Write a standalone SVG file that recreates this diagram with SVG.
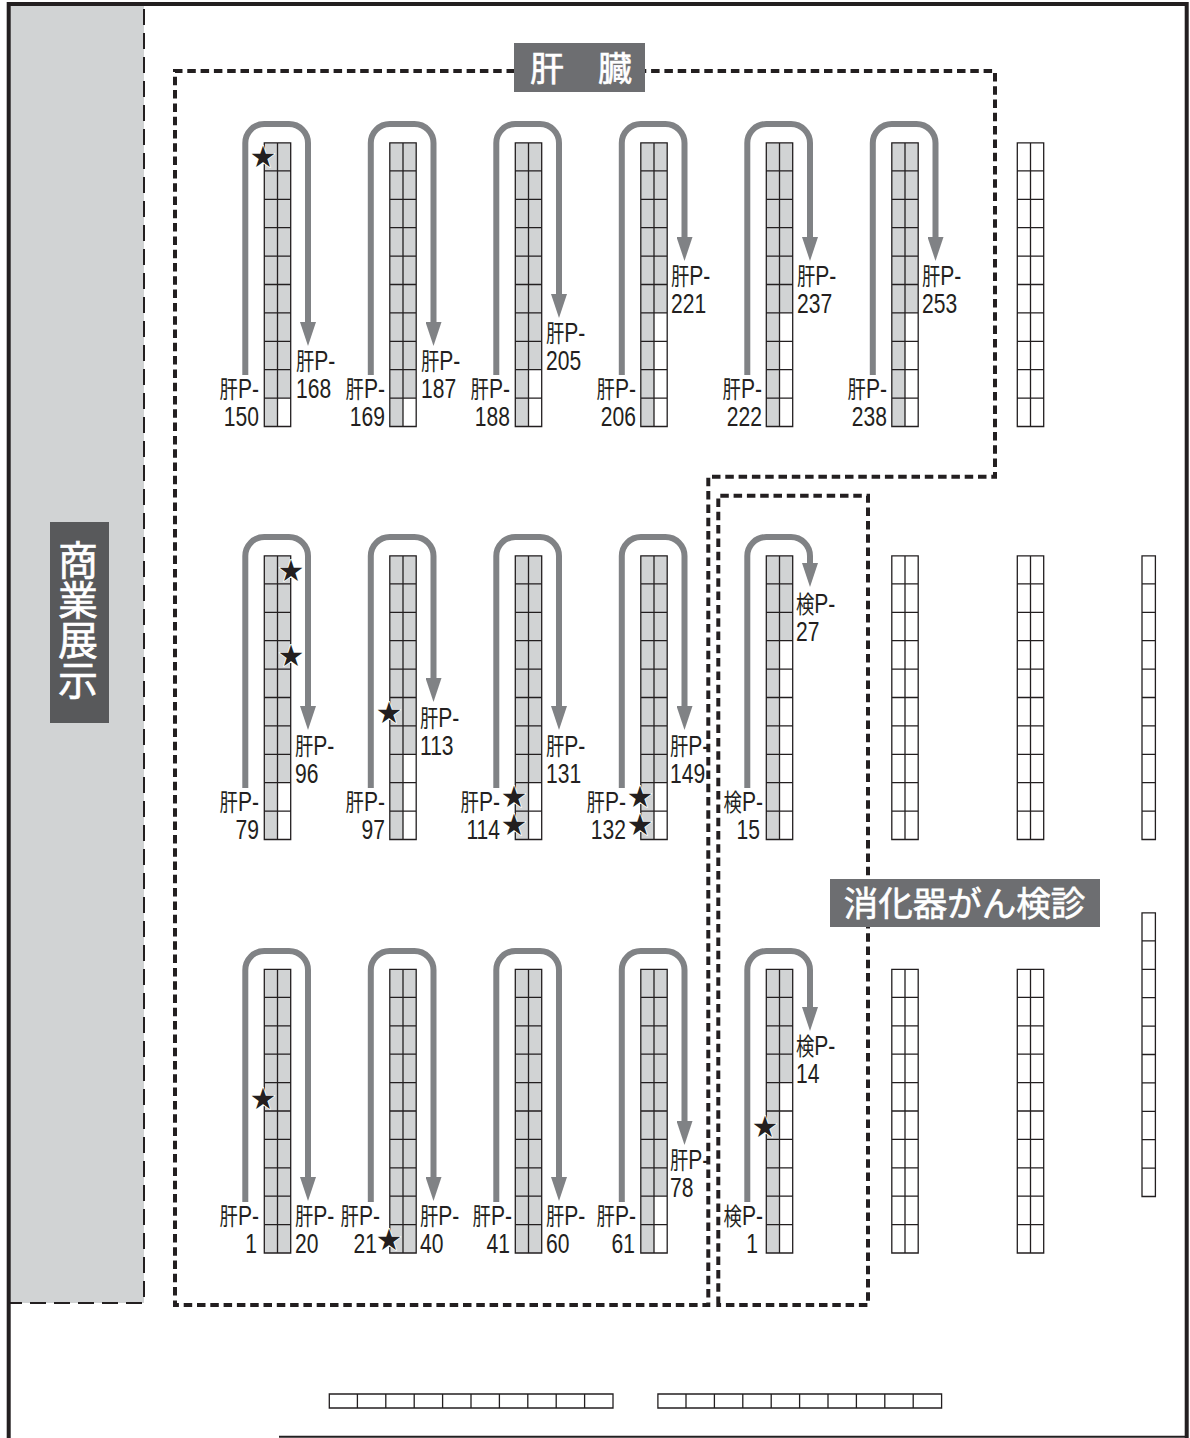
<svg xmlns="http://www.w3.org/2000/svg" width="1190" height="1438" viewBox="0 0 1190 1438">
<style>
text{font-family:"Liberation Sans","Noto Sans CJK JP",sans-serif;fill:#231f20}
.l{font-size:27px}
.e{text-anchor:end}
.c{font-family:"Noto Sans CJK JP",sans-serif;font-size:23.5px}
.f{fill:#d1d3d4}
.grid{fill:none;stroke:#231f20;stroke-width:1.3}
.a{fill:none;stroke:#808285;stroke-width:6;marker-end:url(#h)}
.b{fill:none;stroke:#231f20;stroke-width:4;stroke-dasharray:8.5 4.8}
.s{font-family:"Noto Sans CJK JP",sans-serif;font-size:24px;text-anchor:middle;stroke:#fff;stroke-width:1.6;paint-order:stroke}
.tag{fill:#6d6e71}
.w{fill:#fff;stroke:#fff;stroke-width:.6;font-family:"Noto Sans CJK JP",sans-serif;text-anchor:middle}
</style>
<defs>
<marker id="h" markerUnits="userSpaceOnUse" markerWidth="24" markerHeight="16" refX="0" refY="8" orient="auto"><path d="M0 0L24 8L0 16Z" fill="#808285"/></marker>
<g id="r" class="grid"><path d="M0 .3H26.4V284H0ZM13.2 .3V284M0 28.4H26.4M0 56.8H26.4M0 85.2H26.4M0 113.6H26.4M0 142H26.4M0 170.4H26.4M0 198.8H26.4M0 227.2H26.4M0 255.6H26.4"/></g>
<g id="one" class="grid"><path d="M0 .3H13.4V284H0ZM0 28.4H13.4M0 56.8H13.4M0 85.2H13.4M0 113.6H13.4M0 142H13.4M0 170.4H13.4M0 198.8H13.4M0 227.2H13.4M0 255.6H13.4"/></g>
<g id="hr" class="grid"><path d="M.3 0H284V14H.3ZM28.4 0V14M56.8 0V14M85.2 0V14M113.6 0V14M142 0V14M170.4 0V14M198.8 0V14M227.2 0V14M255.6 0V14"/></g>
</defs>
<g id="exhibit-band">
<rect class="f" x="10" y="5" width="134" height="1298"/>
<path d="M144 9V1303H10" fill="none" stroke="#231f20" stroke-width="2" stroke-dasharray="16 8"/>
</g>
<g id="frame">
<path d="M8.7 1438V4H1186.7V1438" fill="none" stroke="#231f20" stroke-width="4"/>
<path d="M279 1436.7H1186" fill="none" stroke="#231f20" stroke-width="2"/>
</g>
<g id="zones">
<path class="b" d="M515 71H175V1305H708.3V476.7H995V71H645"/>
<path class="b" d="M718.3 1305V495.7H868V1305Z"/>
</g>
<g id="connectors">
<path class="a" d="M245.3 375V143a19 19 0 0 1 19-19H289a19 19 0 0 1 19 19V322"/>
<path class="a" d="M370.8 375V143a19 19 0 0 1 19-19H414.5a19 19 0 0 1 19 19V322"/>
<path class="a" d="M496.3 375V143a19 19 0 0 1 19-19H540a19 19 0 0 1 19 19V294"/>
<path class="a" d="M621.8 375V143a19 19 0 0 1 19-19H665.5a19 19 0 0 1 19 19V237"/>
<path class="a" d="M747.3 375V143a19 19 0 0 1 19-19H791a19 19 0 0 1 19 19V237"/>
<path class="a" d="M872.8 375V143a19 19 0 0 1 19-19H916.5a19 19 0 0 1 19 19V237"/>
<path class="a" d="M245.3 788V556a19 19 0 0 1 19-19H289a19 19 0 0 1 19 19V706"/>
<path class="a" d="M370.8 788V556a19 19 0 0 1 19-19H414.5a19 19 0 0 1 19 19V678"/>
<path class="a" d="M496.3 788V556a19 19 0 0 1 19-19H540a19 19 0 0 1 19 19V706"/>
<path class="a" d="M621.8 788V556a19 19 0 0 1 19-19H665.5a19 19 0 0 1 19 19V706"/>
<path class="a" d="M747.3 788V556a19 19 0 0 1 19-19H791a19 19 0 0 1 19 19V563"/>
<path class="a" d="M245.3 1202V970a19 19 0 0 1 19-19H289a19 19 0 0 1 19 19V1177"/>
<path class="a" d="M370.8 1202V970a19 19 0 0 1 19-19H414.5a19 19 0 0 1 19 19V1177"/>
<path class="a" d="M496.3 1202V970a19 19 0 0 1 19-19H540a19 19 0 0 1 19 19V1177"/>
<path class="a" d="M621.8 1202V970a19 19 0 0 1 19-19H665.5a19 19 0 0 1 19 19V1121"/>
<path class="a" d="M747.3 1202V970a19 19 0 0 1 19-19H791a19 19 0 0 1 19 19V1007"/>
</g>
<g id="rack-150-168">
<rect class="f" x="264.3" y="142.5" width="13.2" height="284"/><rect class="f" x="277.5" y="142.5" width="13.2" height="255.6"/><use href="#r" x="264.3" y="142.5"/>
<text class="l e" transform="matrix(.78 0 0 1 259 398)"><tspan class="c">肝</tspan>P-</text><text class="l e" transform="matrix(.78 0 0 1 259 425.5)">150</text>
<text class="l" transform="matrix(.78 0 0 1 296 370)"><tspan class="c">肝</tspan>P-</text><text class="l" transform="matrix(.78 0 0 1 296 398)">168</text>
<text class="s" x="263" y="165">★</text>
</g>
<g id="rack-169-187">
<rect class="f" x="389.8" y="142.5" width="13.2" height="284"/><rect class="f" x="403" y="142.5" width="13.2" height="255.6"/><use href="#r" x="389.8" y="142.5"/>
<text class="l e" transform="matrix(.78 0 0 1 385 398)"><tspan class="c">肝</tspan>P-</text><text class="l e" transform="matrix(.78 0 0 1 385 425.5)">169</text>
<text class="l" transform="matrix(.78 0 0 1 421 370)"><tspan class="c">肝</tspan>P-</text><text class="l" transform="matrix(.78 0 0 1 421 398)">187</text>
</g>
<g id="rack-188-205">
<rect class="f" x="515.3" y="142.5" width="13.2" height="284"/><rect class="f" x="528.5" y="142.5" width="13.2" height="227.2"/><use href="#r" x="515.3" y="142.5"/>
<text class="l e" transform="matrix(.78 0 0 1 510 398)"><tspan class="c">肝</tspan>P-</text><text class="l e" transform="matrix(.78 0 0 1 510 425.5)">188</text>
<text class="l" transform="matrix(.78 0 0 1 546 342)"><tspan class="c">肝</tspan>P-</text><text class="l" transform="matrix(.78 0 0 1 546 370)">205</text>
</g>
<g id="rack-206-221">
<rect class="f" x="640.8" y="142.5" width="13.2" height="284"/><rect class="f" x="654" y="142.5" width="13.2" height="170.4"/><use href="#r" x="640.8" y="142.5"/>
<text class="l e" transform="matrix(.78 0 0 1 636 398)"><tspan class="c">肝</tspan>P-</text><text class="l e" transform="matrix(.78 0 0 1 636 425.5)">206</text>
<text class="l" transform="matrix(.78 0 0 1 671 285)"><tspan class="c">肝</tspan>P-</text><text class="l" transform="matrix(.78 0 0 1 671 313)">221</text>
</g>
<g id="rack-222-237">
<rect class="f" x="766.3" y="142.5" width="13.2" height="284"/><rect class="f" x="779.5" y="142.5" width="13.2" height="170.4"/><use href="#r" x="766.3" y="142.5"/>
<text class="l e" transform="matrix(.78 0 0 1 762 398)"><tspan class="c">肝</tspan>P-</text><text class="l e" transform="matrix(.78 0 0 1 762 425.5)">222</text>
<text class="l" transform="matrix(.78 0 0 1 797 285)"><tspan class="c">肝</tspan>P-</text><text class="l" transform="matrix(.78 0 0 1 797 313)">237</text>
</g>
<g id="rack-238-253">
<rect class="f" x="891.8" y="142.5" width="13.2" height="284"/><rect class="f" x="905" y="142.5" width="13.2" height="170.4"/><use href="#r" x="891.8" y="142.5"/>
<text class="l e" transform="matrix(.78 0 0 1 887 398)"><tspan class="c">肝</tspan>P-</text><text class="l e" transform="matrix(.78 0 0 1 887 425.5)">238</text>
<text class="l" transform="matrix(.78 0 0 1 922 285)"><tspan class="c">肝</tspan>P-</text><text class="l" transform="matrix(.78 0 0 1 922 313)">253</text>
</g>
<g id="rack-79-96">
<rect class="f" x="264.3" y="555.5" width="13.2" height="284"/><rect class="f" x="277.5" y="555.5" width="13.2" height="227.2"/><use href="#r" x="264.3" y="555.5"/>
<text class="l e" transform="matrix(.78 0 0 1 259 811)"><tspan class="c">肝</tspan>P-</text><text class="l e" transform="matrix(.78 0 0 1 259 838.5)">79</text>
<text class="l" transform="matrix(.78 0 0 1 295 755)"><tspan class="c">肝</tspan>P-</text><text class="l" transform="matrix(.78 0 0 1 295 783)">96</text>
<text class="s" x="291" y="579">★</text><text class="s" x="291" y="664">★</text>
</g>
<g id="rack-97-113">
<rect class="f" x="389.8" y="555.5" width="13.2" height="284"/><rect class="f" x="403" y="555.5" width="13.2" height="198.8"/><use href="#r" x="389.8" y="555.5"/>
<text class="l e" transform="matrix(.78 0 0 1 385 811)"><tspan class="c">肝</tspan>P-</text><text class="l e" transform="matrix(.78 0 0 1 385 838.5)">97</text>
<text class="l" transform="matrix(.78 0 0 1 420 727)"><tspan class="c">肝</tspan>P-</text><text class="l" transform="matrix(.78 0 0 1 420 755)">113</text>
<text class="s" x="389" y="721">★</text>
</g>
<g id="rack-114-131">
<rect class="f" x="515.3" y="555.5" width="13.2" height="284"/><rect class="f" x="528.5" y="555.5" width="13.2" height="227.2"/><use href="#r" x="515.3" y="555.5"/>
<text class="l e" transform="matrix(.78 0 0 1 500 811)"><tspan class="c">肝</tspan>P-</text><text class="l e" transform="matrix(.78 0 0 1 500 838.5)">114</text>
<text class="l" transform="matrix(.78 0 0 1 546 755)"><tspan class="c">肝</tspan>P-</text><text class="l" transform="matrix(.78 0 0 1 546 783)">131</text>
<text class="s" x="514" y="805">★</text><text class="s" x="514" y="833">★</text>
</g>
<g id="rack-132-149">
<rect class="f" x="640.8" y="555.5" width="13.2" height="284"/><rect class="f" x="654" y="555.5" width="13.2" height="227.2"/><use href="#r" x="640.8" y="555.5"/>
<text class="l e" transform="matrix(.78 0 0 1 626 811)"><tspan class="c">肝</tspan>P-</text><text class="l e" transform="matrix(.78 0 0 1 626 838.5)">132</text>
<text class="l" transform="matrix(.78 0 0 1 670 755)"><tspan class="c">肝</tspan>P-</text><text class="l" transform="matrix(.78 0 0 1 670 783)">149</text>
<text class="s" x="640" y="805">★</text><text class="s" x="640" y="833">★</text>
</g>
<g id="rack-k15-27">
<rect class="f" x="766.3" y="555.5" width="13.2" height="284"/><rect class="f" x="779.5" y="555.5" width="13.2" height="85.2"/><use href="#r" x="766.3" y="555.5"/>
<text class="l e" transform="matrix(.78 0 0 1 763 811)"><tspan class="c">検</tspan>P-</text><text class="l e" transform="matrix(.78 0 0 1 760 838.5)">15</text>
<text class="l" transform="matrix(.78 0 0 1 796 613)"><tspan class="c">検</tspan>P-</text><text class="l" transform="matrix(.78 0 0 1 796 640.5)">27</text>
</g>
<g id="rack-1-20">
<rect class="f" x="264.3" y="969" width="13.2" height="284"/><rect class="f" x="277.5" y="969" width="13.2" height="284"/><use href="#r" x="264.3" y="969"/>
<text class="l e" transform="matrix(.78 0 0 1 259 1225)"><tspan class="c">肝</tspan>P-</text><text class="l e" transform="matrix(.78 0 0 1 257 1253)">1</text>
<text class="l" transform="matrix(.78 0 0 1 295 1225)"><tspan class="c">肝</tspan>P-</text><text class="l" transform="matrix(.78 0 0 1 295 1253)">20</text>
<text class="s" x="263" y="1107">★</text>
</g>
<g id="rack-21-40">
<rect class="f" x="389.8" y="969" width="13.2" height="284"/><rect class="f" x="403" y="969" width="13.2" height="284"/><use href="#r" x="389.8" y="969"/>
<text class="l e" transform="matrix(.78 0 0 1 380 1225)"><tspan class="c">肝</tspan>P-</text><text class="l e" transform="matrix(.78 0 0 1 377 1253)">21</text>
<text class="l" transform="matrix(.78 0 0 1 420 1225)"><tspan class="c">肝</tspan>P-</text><text class="l" transform="matrix(.78 0 0 1 420 1253)">40</text>
<text class="s" x="389" y="1248">★</text>
</g>
<g id="rack-41-60">
<rect class="f" x="515.3" y="969" width="13.2" height="284"/><rect class="f" x="528.5" y="969" width="13.2" height="284"/><use href="#r" x="515.3" y="969"/>
<text class="l e" transform="matrix(.78 0 0 1 512 1225)"><tspan class="c">肝</tspan>P-</text><text class="l e" transform="matrix(.78 0 0 1 510 1253)">41</text>
<text class="l" transform="matrix(.78 0 0 1 546 1225)"><tspan class="c">肝</tspan>P-</text><text class="l" transform="matrix(.78 0 0 1 546 1253)">60</text>
</g>
<g id="rack-61-78">
<rect class="f" x="640.8" y="969" width="13.2" height="284"/><rect class="f" x="654" y="969" width="13.2" height="227.2"/><use href="#r" x="640.8" y="969"/>
<text class="l e" transform="matrix(.78 0 0 1 636 1225)"><tspan class="c">肝</tspan>P-</text><text class="l e" transform="matrix(.78 0 0 1 635 1253)">61</text>
<text class="l" transform="matrix(.78 0 0 1 670 1169)"><tspan class="c">肝</tspan>P-</text><text class="l" transform="matrix(.78 0 0 1 670 1197)">78</text>
</g>
<g id="rack-k1-14">
<rect class="f" x="766.3" y="969" width="13.2" height="284"/><rect class="f" x="779.5" y="969" width="13.2" height="113.6"/><use href="#r" x="766.3" y="969"/>
<text class="l e" transform="matrix(.78 0 0 1 763 1225)"><tspan class="c">検</tspan>P-</text><text class="l e" transform="matrix(.78 0 0 1 758 1253)">1</text>
<text class="l" transform="matrix(.78 0 0 1 796 1055)"><tspan class="c">検</tspan>P-</text><text class="l" transform="matrix(.78 0 0 1 796 1083)">14</text>
<text class="s" x="765" y="1135">★</text>
</g>
<g id="empty-racks">
<use href="#r" x="1017.3" y="142.5"/>
<use href="#r" x="891.8" y="555.5"/><use href="#r" x="1017.3" y="555.5"/><use href="#one" x="1142" y="555.5"/>
<use href="#r" x="891.8" y="969"/><use href="#r" x="1017.3" y="969"/><use href="#one" x="1142" y="912.5"/>
<use href="#hr" x="329" y="1394"/><use href="#hr" x="657.6" y="1394"/>
</g>
<g id="label-liver">
<rect class="tag" x="514" y="43" width="131" height="49"/>
<text class="w" x="581" y="81" font-size="34" xml:space="preserve">肝　臓</text>
</g>
<g id="label-gastro">
<rect class="tag" x="830" y="879" width="270" height="48"/>
<text class="w" x="964.5" y="916" font-size="34.5">消化器がん検診</text>
</g>
<g id="label-exhibit">
<rect x="50" y="522" width="59" height="201" fill="#58595b"/>
<text class="w" x="78" y="540" font-size="40" style="writing-mode:vertical-rl;text-anchor:start">商業展示</text>
</g>
</svg>
